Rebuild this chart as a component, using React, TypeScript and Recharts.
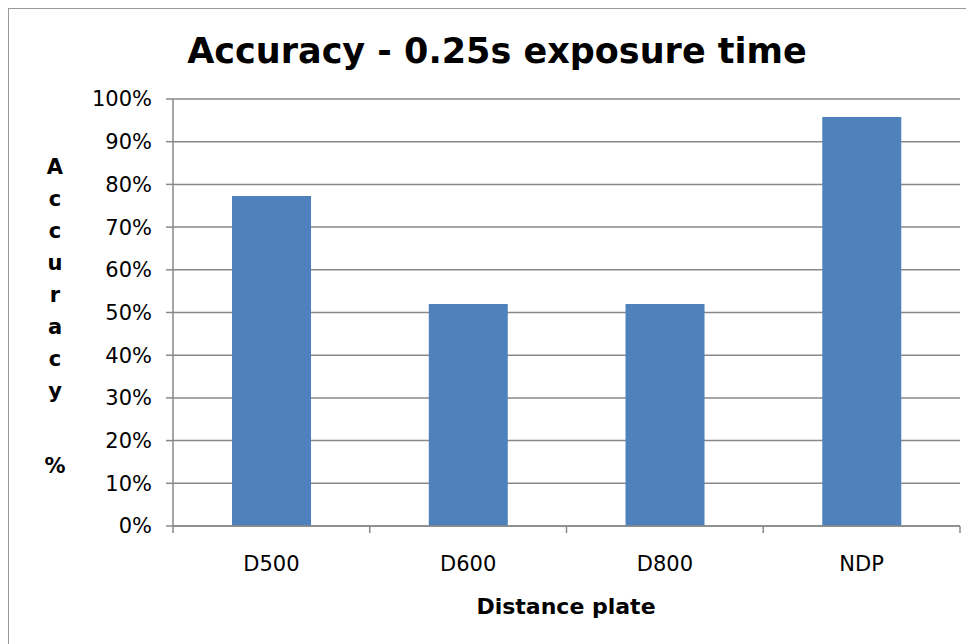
import React from "react";
import { BarChart, Bar, XAxis, YAxis, CartesianGrid } from "recharts";

const plates = ["D500", "D600", "D800", "NDP"];
const accuracy = [0.773, 0.52, 0.52, 0.958];
const yTicks = [0, 0.1, 0.2, 0.3, 0.4, 0.5, 0.6, 0.7, 0.8, 0.9, 1];
const yLabelLetters = ["A", "c", "c", "u", "r", "a", "c", "y"];

const data = plates.map((p, i) => ({ plate: p, acc: accuracy[i] }));

const FONT = "'DejaVu Sans', Verdana, sans-serif";

function PlateTick(props: any) {
  const { x, y, payload, index, visibleTicksCount } = props;
  const half = payload.offset ?? 0;
  const isLast = index === visibleTicksCount - 1;
  return (
    <g>
      <line x1={x - half} x2={x - half} y1={y} y2={y + 7} stroke="#888" strokeWidth={1.5} />
      {isLast && (
        <line x1={x + half} x2={x + half} y1={y} y2={y + 7} stroke="#888" strokeWidth={1.5} />
      )}
      <text x={x} y={y + 45} textAnchor="middle" fontSize={21} fill="#000" fontFamily={FONT}>
        {payload.value}
      </text>
    </g>
  );
}

export default function App() {
  return (
    <div
      style={{
        width: 966,
        height: 636,
        borderLeft: "1.5px solid #999",
        borderTop: "1.5px solid #999",
        boxSizing: "border-box",
        position: "relative",
        background: "#fff",
      }}
    >
      <BarChart
        width={964}
        height={634}
        data={data}
        margin={{ top: 90, right: 13, bottom: 52, left: 84 }}
        barCategoryGap="30%"
      >
        <text x={488} y={54} textAnchor="middle" fontSize={35} fontWeight="bold" fontFamily={FONT} fill="#000">
          Accuracy - 0.25s exposure time
        </text>
        <text x={557} y={605} textAnchor="middle" fontSize={22} fontWeight="bold" fontFamily={FONT} fill="#000">
          Distance plate
        </text>
        <text textAnchor="middle" fontSize={21} fontWeight="bold" fontFamily={FONT} fill="#000">
          {yLabelLetters.map((l, i) => (
            <tspan key={i} x={46} y={165 + i * 32}>
              {l}
            </tspan>
          ))}
          <tspan x={46} y={165 + 7 * 32 + 75}>
            %
          </tspan>
        </text>
        <CartesianGrid vertical={false} stroke="#888" strokeWidth={1.5} />
        <XAxis
          dataKey="plate"
          tick={<PlateTick />}
          tickLine={false}
          tickSize={0}
          tickMargin={0}
          height={65}
          axisLine={{ stroke: "#888", strokeWidth: 1.5 }}
        />
        <YAxis
          domain={[0, 1]}
          ticks={yTicks}
          interval={0}
          width={80}
          tickSize={7}
          tickMargin={14}
          tickFormatter={(v: number) => `${Math.round(v * 100)}%`}
          tick={{ fontSize: 21, fill: "#000", fontFamily: FONT }}
          tickLine={{ stroke: "#888", strokeWidth: 1.5 }}
          axisLine={{ stroke: "#888", strokeWidth: 1.5 }}
        />
        <Bar dataKey="acc" fill="#4F81BD" isAnimationActive={false} />
      </BarChart>
    </div>
  );
}
